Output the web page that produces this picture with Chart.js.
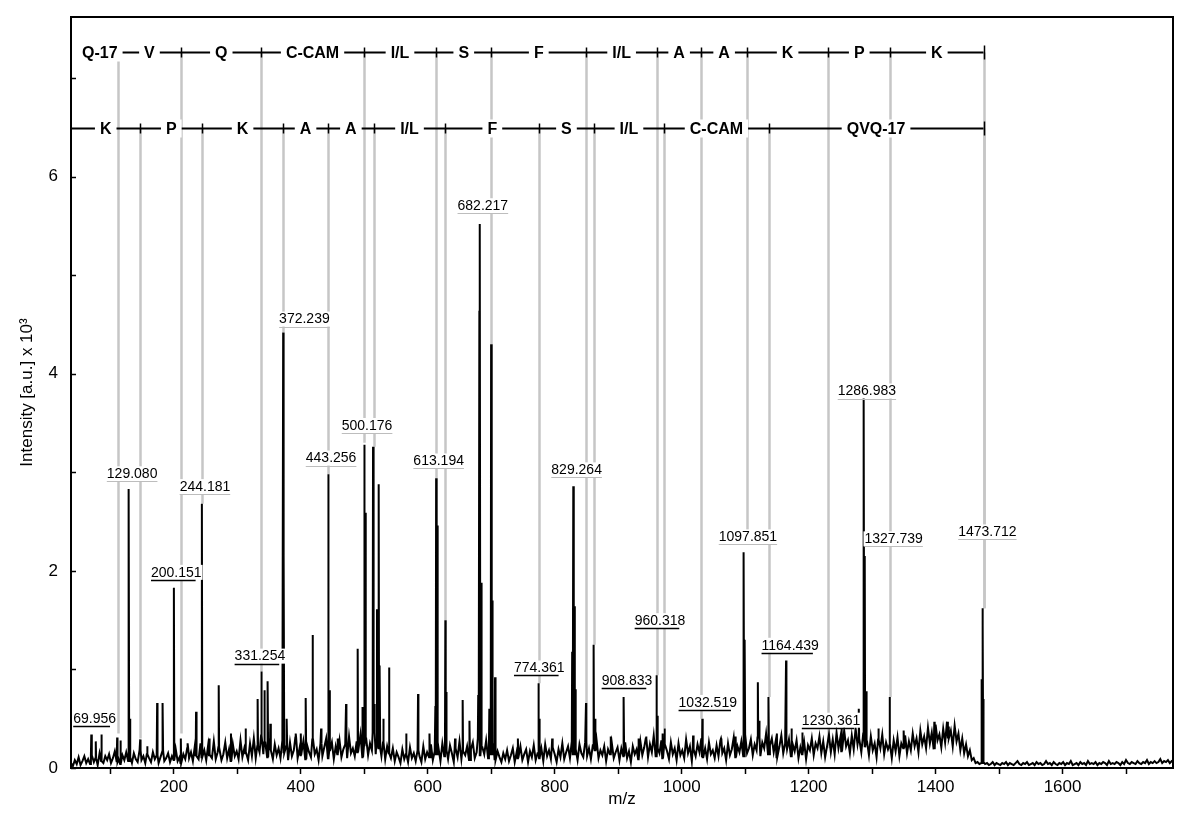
<!DOCTYPE html>
<html>
<head>
<meta charset="utf-8">
<title>MS/MS spectrum</title>
<script src="https://cdn.jsdelivr.net/npm/chart.js@4.4.0/dist/chart.umd.min.js"></script>
<style>
  html, body { margin: 0; padding: 0; background: #fff; }
</style>
</head>
<body>
<canvas id="spektar" width="1200" height="814"></canvas>
<script>
// baseline noise, one value every 3 m/z starting at 38
var noiseStart = 38;
var noiseStep = 3;
var noise = [
  0.05,0.02,0.08,0.04,0.11,0.03,0.07,0.12,0.05,0.09,
  0.04,0.13,0.06,0.1,0.03,0.15,0.07,0.05,0.12,0.08,
  0.14,0.05,0.1,0.17,0.06,0.09,0.04,0.13,0.08,0.16,
  0.07,0.11,0.05,0.15,0.09,0.06,0.18,0.08,0.12,0.05,
  0.14,0.1,0.06,0.16,0.09,0.13,0.05,0.11,0.17,0.07,
  0.1,0.15,0.06,0.12,0.08,0.19,0.07,0.11,0.05,0.14,
  0.09,0.2,0.1,0.16,0.07,0.22,0.12,0.09,0.25,0.11,
  0.18,0.08,0.23,0.13,0.1,0.27,0.09,0.16,0.21,0.08,
  0.14,0.26,0.1,0.19,0.07,0.24,0.12,0.17,0.09,0.28,
  0.11,0.2,0.15,0.08,0.25,0.12,0.3,0.1,0.22,0.16,
  0.33,0.14,0.26,0.11,0.3,0.18,0.09,0.24,0.13,0.2,
  0.1,0.28,0.15,0.22,0.08,0.26,0.12,0.18,0.31,0.1,
  0.2,0.13,0.27,0.09,0.23,0.16,0.11,0.29,0.14,0.19,
  0.08,0.25,0.12,0.21,0.3,0.1,0.18,0.26,0.09,0.22,
  0.14,0.28,0.11,0.19,0.24,0.1,0.32,0.15,0.2,0.12,
  0.27,0.16,0.34,0.11,0.23,0.3,0.13,0.25,0.18,0.36,
  0.14,0.28,0.2,0.12,0.26,0.09,0.22,0.15,0.1,0.2,
  0.07,0.16,0.11,0.05,0.19,0.09,0.14,0.06,0.21,0.1,
  0.15,0.07,0.18,0.12,0.06,0.22,0.09,0.16,0.11,0.24,
  0.08,0.17,0.13,0.2,0.07,0.25,0.12,0.18,0.09,0.23,
  0.15,0.06,0.2,0.11,0.27,0.09,0.17,0.13,0.22,0.08,
  0.19,0.26,0.1,0.16,0.3,0.12,0.21,0.14,0.28,0.1,
  0.24,0.13,0.2,0.08,0.17,0.11,0.06,0.15,0.09,0.18,
  0.07,0.13,0.2,0.06,0.16,0.1,0.22,0.08,0.14,0.19,
  0.06,0.17,0.11,0.23,0.08,0.15,0.1,0.2,0.07,0.24,
  0.12,0.18,0.09,0.21,0.14,0.06,0.19,0.11,0.25,0.09,
  0.16,0.22,0.1,0.27,0.13,0.19,0.08,0.24,0.15,0.11,
  0.26,0.12,0.2,0.09,0.23,0.17,0.28,0.1,0.18,0.13,
  0.22,0.07,0.19,0.14,0.25,0.1,0.16,0.21,0.08,0.2,
  0.12,0.26,0.1,0.17,0.06,0.22,0.14,0.19,0.09,0.27,
  0.13,0.21,0.3,0.11,0.24,0.16,0.33,0.12,0.2,0.15,
  0.28,0.1,0.23,0.17,0.09,0.26,0.14,0.2,0.08,0.25,
  0.13,0.18,0.1,0.29,0.15,0.22,0.07,0.19,0.12,0.24,
  0.16,0.3,0.11,0.2,0.09,0.26,0.14,0.18,0.1,0.23,
  0.12,0.28,0.15,0.2,0.08,0.25,0.13,0.19,0.31,0.11,
  0.22,0.16,0.27,0.12,0.34,0.15,0.2,0.29,0.13,0.24,
  0.18,0.31,0.12,0.26,0.2,0.35,0.14,0.23,0.3,0.16,
  0.27,0.11,0.22,0.33,0.15,0.25,0.19,0.29,0.12,0.24,
  0.17,0.28,0.1,0.21,0.14,0.26,0.09,0.23,0.18,0.3,
  0.13,0.25,0.2,0.32,0.15,0.27,0.11,0.22,0.34,0.16,
  0.29,0.14,0.36,0.2,0.31,0.17,0.38,0.22,0.28,0.15,
  0.33,0.19,0.4,0.24,0.3,0.16,0.35,0.21,0.27,0.13,
  0.32,0.18,0.25,0.11,0.29,0.2,0.34,0.14,0.26,0.19,
  0.23,0.1,0.28,0.17,0.31,0.12,0.25,0.2,0.33,0.15,
  0.27,0.18,0.35,0.22,0.3,0.16,0.38,0.24,0.32,0.2,
  0.41,0.25,0.36,0.19,0.44,0.28,0.34,0.21,0.4,0.26,
  0.47,0.3,0.38,0.22,0.43,0.27,0.35,0.18,0.3,0.15,
  0.24,0.12,0.18,0.08,0.1,0.05,0.06,0.04,0.05,0.06,
  0.04,0.05,0.03,0.04,0.06,0.03,0.05,0.04,0.03,0.05,
  0.04,0.06,0.03,0.05,0.04,0.03,0.05,0.07,0.04,0.03,
  0.05,0.04,0.06,0.03,0.04,0.05,0.03,0.06,0.04,0.05,
  0.03,0.04,0.07,0.04,0.05,0.03,0.06,0.04,0.03,0.05,
  0.04,0.06,0.03,0.05,0.04,0.07,0.03,0.04,0.05,0.03,
  0.06,0.04,0.05,0.03,0.07,0.04,0.05,0.04,0.06,0.03,
  0.05,0.04,0.06,0.05,0.03,0.07,0.04,0.05,0.04,0.06,
  0.05,0.03,0.06,0.04,0.08,0.05,0.04,0.06,0.05,0.04,
  0.07,0.05,0.04,0.06,0.05,0.08,0.04,0.06,0.05,0.07,
  0.05,0.06,0.09,0.05,0.07,0.06,0.08,0.05,0.07,0.06
];

// peaks (m/z, intensity x 10^3)
var peakMz = [69.96, 77, 86, 110.7, 116, 129.08, 131, 147, 158, 173.7, 182.5, 200.15, 211, 222, 235, 244.18,
  256, 270.7, 290, 313, 332, 338, 342.7, 348, 352, 372.24, 373.3, 378, 392, 400, 408, 418.7, 432, 443.26, 445.5,
  458, 471.3, 489.6, 497.5, 500.18, 502, 513.8, 516, 520, 522.7, 524.5, 530, 539, 566, 584.7, 603, 612, 613.19,
  615, 627.7, 629.5, 643, 655, 666, 679.5, 681.3, 682.22, 684.5, 697, 699.8, 701.5, 706, 742, 774.36, 776, 796,
  827.5, 829.26, 830.8, 832.5, 849.3, 861.3, 863.5, 888, 908.83, 932, 944, 960.32, 962, 970, 973, 1018, 1032.52,
  1062, 1085, 1097.85, 1099.5, 1120, 1122, 1137, 1150, 1164.44, 1173, 1190, 1252, 1279, 1286.98, 1288.7, 1291,
  1310, 1327.74, 1350, 1398, 1420, 1472.6, 1473.71, 1474.6, 1475.6];
var peakInt = [0.34, 0.27, 0.34, 0.31, 0.28, 2.83, 0.5, 0.29, 0.22, 0.66, 0.66, 1.83, 0.3, 0.25, 0.57, 2.68,
  0.3, 0.84, 0.35, 0.4, 0.7, 0.98, 0.79, 0.88, 0.45, 4.42, 2.16, 0.5, 0.35, 0.35, 0.71, 1.35, 0.4, 2.98, 0.79,
  0.3, 0.65, 1.21, 0.62, 3.28, 2.59, 3.26, 0.65, 1.61, 2.88, 1.04, 0.5, 1.02, 0.35, 0.75, 0.35, 0.63, 2.94,
  2.46, 1.5, 0.77, 0.3, 0.69, 0.48, 0.74, 4.64, 5.52, 1.88, 0.6, 4.3, 1.7, 0.92, 0.3, 0.86, 0.5, 0.3,
  1.18, 2.86, 1.64, 0.8, 0.66, 1.25, 0.5, 0.32, 0.72, 0.3, 0.32, 0.94, 0.53, 0.35, 0.4, 0.33, 0.5,
  0.3, 0.32, 2.19, 1.3, 0.87, 0.48, 0.72, 0.35, 1.09, 0.4, 0.36, 0.4, 0.6, 3.76, 2.15, 0.78,
  0.4, 0.72, 0.38, 0.47, 0.42, 0.9, 1.62, 1.45, 0.7];

// peak annotations: text, where the text sits (m/z, intensity), underline kind
var labelText = ['69.956','129.080','200.151','244.181','331.254','372.239','443.256','500.176','613.194','682.217',
  '774.361','829.264','908.833','960.318','1032.519','1097.851','1164.439','1230.361','1286.983','1327.739','1473.712'];
var labelMz = [75.2, 134.3, 203.9, 249, 335.6, 405.7, 447.7, 504.4, 617.2, 686.8,
  775.7, 834.5, 913.8, 965.8, 1041.1, 1104.4, 1171, 1235.3, 1291.8, 1334, 1481.6];
var labelInt = [0.5, 2.98, 1.98, 2.85, 1.13, 4.55, 3.14, 3.47, 3.11, 5.7,
  1.01, 3.02, 0.88, 1.49, 0.66, 2.34, 1.24, 0.48, 3.82, 2.32, 2.39];
var labelBlack = [1, 0, 1, 0, 1, 0, 0, 0, 0, 0, 1, 0, 1, 1, 1, 0, 1, 1, 0, 0, 0];

// fragment ladders
var topRow = 7.26;
var topStart = 55;
var topCuts = [111.7, 211.5, 338, 499, 613.5, 700, 849.8, 961, 1031, 1102.8, 1231, 1328.5, 1475.5];
var topNames = ['Q-17','V','Q','C-CAM','I/L','S','F','I/L','A','A','K','P','K'];
var topEnds = [0.35, 0.35, 0.98, 3.3, 2.94, 4.3, 0.66, 0.94, 0.5, 2.35, 0.2, 0.72, 1.62];

var botRow = 6.49;
var botStart = 19;
var botCuts = [147.4, 244.6, 372, 443, 514.8, 627.7, 775.7, 861.3, 972.6, 1136.9, 1475.5];
var botNames = ['K','P','K','A','A','I/L','F','S','I/L','C-CAM','QVQ-17'];
var botEnds = [0.3, 2.68, 4.42, 2.98, 3.26, 1.5, 0.86, 1.25, 0.4, 0.72, 1.62];

var FONT = '"Liberation Sans", Arial, sans-serif';

function napraviSpektar() {
    var pts = [];
    for (var i = 0; i < noise.length; i++) {
        pts.push({ x: noiseStart + i * noiseStep, y: noise[i] });
    }
    for (var j = 0; j < peakMz.length; j++) {
        var k = Math.round((peakMz[j] - noiseStart) / noiseStep);
        k = Math.max(0, Math.min(noise.length - 1, k));
        var b = noise[k];
        pts.push({ x: peakMz[j] - 0.6, y: b });
        pts.push({ x: peakMz[j], y: peakInt[j] });
        pts.push({ x: peakMz[j] + 0.6, y: b });
    }
    pts.sort(function(a, b) { return a.x - b.x; });
    return pts;
}

function sivaLinije(chart) {
    var ctx = chart.ctx, xs = chart.scales.x, ys = chart.scales.y;
    ctx.save();
    ctx.strokeStyle = '#c6c6c6';
    ctx.lineWidth = 2.5;
    function jedna(mz, from, to) {
        var px = Math.round(xs.getPixelForValue(mz)) + 0.5;
        ctx.beginPath();
        ctx.moveTo(px, ys.getPixelForValue(from));
        ctx.lineTo(px, ys.getPixelForValue(to));
        ctx.stroke();
    }
    for (var i = 0; i < topCuts.length; i++) jedna(topCuts[i], topRow, topEnds[i]);
    for (var j = 0; j < botCuts.length; j++) jedna(botCuts[j], botRow, botEnds[j]);
    ctx.restore();
}

function lestvica(chart, start, cuts, names, row) {
    var ctx = chart.ctx, xs = chart.scales.x, ys = chart.scales.y, area = chart.chartArea;
    var y = Math.round(ys.getPixelForValue(row)) + 0.5;
    var x0 = Math.max(xs.getPixelForValue(start), area.left);
    var xEnd = xs.getPixelForValue(cuts[cuts.length - 1]);
    ctx.save();
    ctx.strokeStyle = '#000';
    ctx.lineWidth = 2;
    ctx.beginPath();
    ctx.moveTo(x0, y);
    ctx.lineTo(xEnd, y);
    ctx.stroke();
    ctx.lineWidth = 1.5;
    for (var i = 0; i < cuts.length; i++) {
        var px = Math.round(xs.getPixelForValue(cuts[i])) + 0.5;
        var h = (i === cuts.length - 1) ? 7 : 5;
        ctx.beginPath();
        ctx.moveTo(px, y - h);
        ctx.lineTo(px, y + h);
        ctx.stroke();
    }
    ctx.font = 'bold 16px ' + FONT;
    ctx.textAlign = 'center';
    ctx.textBaseline = 'middle';
    for (var n = 0; n < names.length; n++) {
        var a = n === 0 ? x0 : xs.getPixelForValue(cuts[n - 1]);
        var b = xs.getPixelForValue(cuts[n]);
        var cx = (a + b) / 2;
        var w = ctx.measureText(names[n]).width;
        ctx.fillStyle = '#fff';
        ctx.fillRect(cx - w / 2 - 5, y - 9, w + 10, 18);
        ctx.fillStyle = '#000';
        ctx.fillText(names[n], cx, y + 1);
    }
    ctx.restore();
}

function oznake(chart) {
    var ctx = chart.ctx, xs = chart.scales.x, ys = chart.scales.y;
    ctx.save();
    ctx.font = '14px ' + FONT;
    ctx.textAlign = 'center';
    ctx.textBaseline = 'middle';
    for (var i = 0; i < labelText.length; i++) {
        var cx = xs.getPixelForValue(labelMz[i]);
        var cy = ys.getPixelForValue(labelInt[i]);
        var w = ctx.measureText(labelText[i]).width;
        ctx.fillStyle = '#fff';
        ctx.fillRect(cx - w / 2 - 1, cy - 8, w + 2, 15);
        ctx.fillStyle = '#000';
        ctx.fillText(labelText[i], cx, cy);
        var uy = Math.round(cy + 7) + 0.5;
        ctx.beginPath();
        if (labelBlack[i]) {
            ctx.strokeStyle = '#000';
            ctx.lineWidth = 1.6;
            ctx.moveTo(cx - w / 2, uy);
            ctx.lineTo(cx + w / 2 - 6, uy);
        } else {
            ctx.strokeStyle = '#bdbdbd';
            ctx.lineWidth = 1;
            ctx.moveTo(cx - w / 2, uy);
            ctx.lineTo(cx + w / 2, uy);
        }
        ctx.stroke();
    }
    ctx.restore();
}

var ukrasi = {
    id: 'ukrasi',
    beforeDatasetsDraw: function(chart) {
        sivaLinije(chart);
    },
    afterDatasetsDraw: function(chart) {
        lestvica(chart, topStart, topCuts, topNames, topRow);
        lestvica(chart, botStart, botCuts, botNames, botRow);
        oznake(chart);
    },
    afterDraw: function(chart) {
        var ctx = chart.ctx, a = chart.chartArea, ys = chart.scales.y;
        ctx.save();
        ctx.strokeStyle = '#000';
        ctx.lineWidth = 2;
        ctx.strokeRect(a.left, a.top, a.right - a.left, a.bottom - a.top);
        ctx.lineWidth = 1.5;
        for (var v = 0; v <= 7; v++) {
            var py = Math.round(ys.getPixelForValue(v)) + 0.5;
            ctx.beginPath();
            ctx.moveTo(a.left, py);
            ctx.lineTo(a.left + 5, py);
            ctx.stroke();
        }
        ctx.restore();
    }
};

new Chart(document.getElementById('spektar').getContext('2d'), {
    type: 'scatter',
    data: {
        datasets: [{
            label: 'spektar',
            data: napraviSpektar(),
            showLine: true,
            borderColor: '#000',
            borderWidth: 2,
            pointRadius: 0,
            tension: 0
        }]
    },
    options: {
        responsive: false,
        animation: false,
        devicePixelRatio: 1,
        layout: { padding: { left: 0, top: 17, right: 27, bottom: 0 } },
        plugins: { legend: { display: false }, tooltip: { enabled: false } },
        scales: {
            x: {
                type: 'linear',
                min: 38,
                max: 1774,
                afterFit: function(s) { s.height = 46; s.paddingLeft = 0; s.paddingRight = 0; },
                border: { display: false },
                grid: { display: true, drawOnChartArea: false, drawTicks: true, tickLength: 6, tickColor: '#000', tickWidth: 1.5 },
                ticks: {
                    stepSize: 100,
                    includeBounds: false,
                    autoSkip: false,
                    maxRotation: 0,
                    padding: 3,
                    color: '#000',
                    font: { family: FONT, size: 17 },
                    callback: function(v) { return v % 200 === 0 ? v : ''; }
                },
                title: { display: true, text: 'm/z', color: '#000', font: { family: FONT, size: 17 }, padding: { top: 0, bottom: 4 } }
            },
            y: {
                min: 0,
                max: 7.62,
                afterFit: function(s) { s.width = 71; s.paddingTop = 0; s.paddingBottom = 0; },
                border: { display: false },
                grid: { display: false, drawTicks: false },
                ticks: {
                    stepSize: 1,
                    includeBounds: false,
                    padding: 13,
                    color: '#000',
                    font: { family: FONT, size: 17 },
                    callback: function(v) { return v % 2 === 0 ? v : ''; }
                },
                title: { display: true, text: 'Intensity [a.u.] x 10³', color: '#000', font: { family: FONT, size: 17 }, padding: { top: 17, bottom: 0 } }
            }
        }
    },
    plugins: [ukrasi]
});
</script>
</body>
</html>
